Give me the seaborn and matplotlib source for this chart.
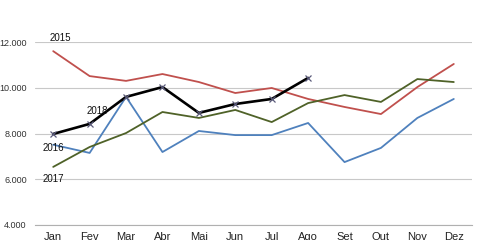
import matplotlib
matplotlib.use("Agg")
import matplotlib.pyplot as plt
import seaborn as sns
import pandas as pd
from matplotlib.ticker import FuncFormatter

months = ["Jan", "Fev", "Mar", "Abr", "Mai", "Jun", "Jul", "Ago", "Set", "Out", "Nov", "Dez"]
v2015 = [11600, 10510, 10300, 10600, 10250, 9770, 9990, 9510, 9160, 8850, 10030, 11040]
v2016 = [7510, 7150, 9600, 7190, 8110, 7930, 7930, 8460, 6750, 7370, 8680, 9510]
v2017 = [6540, 7410, 8020, 8940, 8680, 9030, 8500, 9330, 9680, 9380, 10380, 10250]
v2018 = [7980, 8420, 9600, 10030, 8900, 9290, 9510, 10430]
series_names = ["2015", "2016", "2017", "2018"]
yticks = [4000, 6000, 8000, 10000, 12000]

rows = []
for name, vals in zip(series_names, [v2015, v2016, v2017, v2018]):
    for i, v in enumerate(vals):
        rows.append({"mes": i, "valor": v, "ano": name})
df = pd.DataFrame(rows)

sns.set_theme(style="white")
plt.rcParams["font.family"] = ["Liberation Sans", "DejaVu Sans"]

fig = plt.figure(figsize=(4.8, 2.4), dpi=100)
ax = fig.add_axes([35 / 480, 15 / 240, 437 / 480, 183 / 240])

palette = {"2015": "#C0504D", "2016": "#4F81BD", "2017": "#4F6228", "2018": "#000000"}
widths = {"2015": 1.3, "2016": 1.3, "2017": 1.3, "2018": 1.9}

for name in series_names:
    sub = df[df["ano"] == name]
    sns.lineplot(data=sub, x="mes", y="valor", color=palette[name], lw=widths[name],
                 ax=ax, legend=False, zorder=3 if name == "2018" else 2)
sub18 = df[df["ano"] == "2018"]
ax.plot(sub18["mes"], sub18["valor"], ls="none", marker="x", ms=4.5, mew=0.9,
        color="#5a5a7a", zorder=4)

ax.set_xlim(-0.5, 11.5)
ax.set_ylim(4000, 12000)
ax.set_yticks(yticks)
ax.yaxis.set_major_formatter(FuncFormatter(lambda v, p: f"{int(v):,}".replace(",", ".")))
ax.yaxis.grid(True, color="#c8c8c8", lw=0.8)
ax.set_axisbelow(True)
ax.set_xticks(range(12))
ax.set_xticklabels(months)
ax.set_xticks([i - 0.5 for i in range(13)], minor=True)
ax.tick_params(axis="x", which="major", length=0, pad=5, labelsize=8, colors="#222222")
ax.tick_params(axis="x", which="minor", length=4, width=0.8, color="#b0b0b0", direction="out")
ax.tick_params(axis="y", length=0, pad=6, labelsize=6.5, colors="#333333")
for s in ["top", "right", "left"]:
    ax.spines[s].set_visible(False)
ax.spines["bottom"].set_color("#b0b0b0")
ax.spines["bottom"].set_linewidth(0.8)
ax.set_xlabel("")
ax.set_ylabel("")

lab_kw = dict(fontsize=7, color="#111111", clip_on=False, ha="center", va="center")
ax.text(0.2, v2015[0] + 580, "2015", **lab_kw)
ax.text(1.2, v2018[1] + 560, "2018", **lab_kw)
ax.text(0.0, v2016[0] - 150, "2016", **lab_kw)
ax.text(0.0, v2017[0] - 520, "2017", **lab_kw)

fig.savefig("out.png", dpi=100)
